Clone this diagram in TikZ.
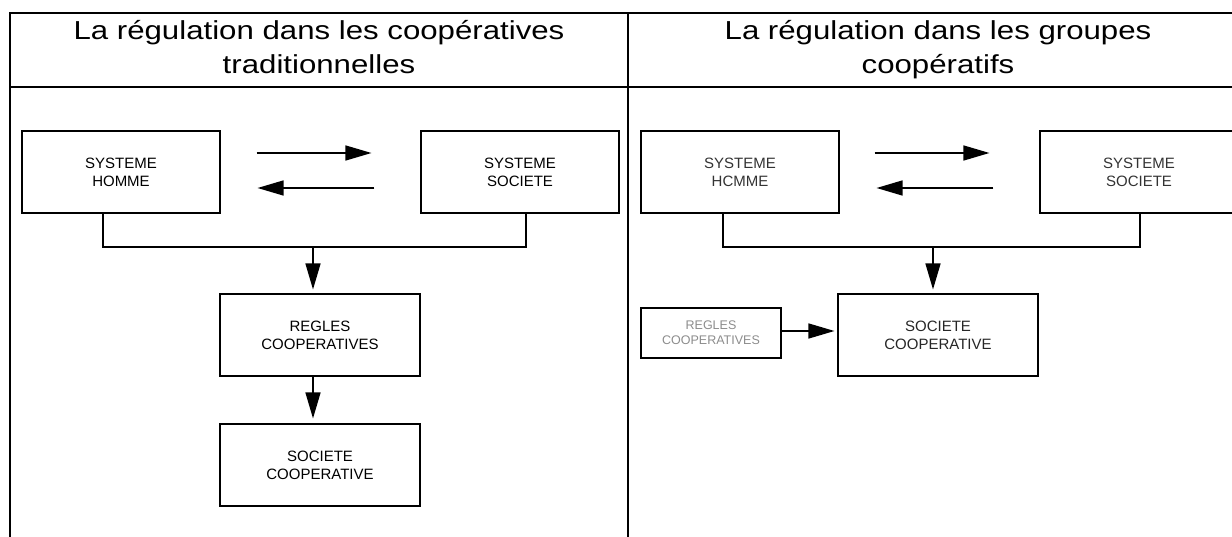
\documentclass[tikz,border=0pt]{standalone}
\usepackage{fontspec}
\setmainfont{Liberation Sans}
\usetikzlibrary{arrows.meta}
\newcommand{\widetitle}[1]{\scalebox{1.2}[1]{\strut #1}}
\tikzset{
    frame/.style={draw=black, line width=1.3pt},
    title/.style={align=center, font=\fontsize{26}{34}\selectfont},
    box/.style={draw=black, line width=1.1pt, minimum width=200pt, minimum height=82pt,
        inner sep=0pt, align=center, font=\fontsize{15}{18}\selectfont},
    smallbox/.style={box, minimum width=140pt, minimum height=50pt,
        font=\fontsize{12.5}{15}\selectfont, text=black!45},
    link/.style={draw=black, line width=1.1pt},
    flow/.style={draw=black, line width=1.4pt, -{Triangle[length=26pt,width=15pt]}}
}

\begin{document}
\begin{tikzpicture}[x=1pt, y=-1pt]
\useasboundingbox (0,0) rectangle (1232,537);
% table
\draw[style={frame}] (1232,13) -- (10,13) -- (10,537);
\draw[style={frame}] (10,87) -- (1232,87);
\draw[style={frame}] (628,13) -- (628,537);
\node[style={title}] (titleA) at (319,50)
  {\widetitle{La régulation dans les coopératives}\\\widetitle{traditionnelles}};
\node[style={title}] (titleB) at (938,50)
  {\widetitle{La régulation dans les groupes}\\\widetitle{coopératifs}};

% left column
\node[style={box}, minimum width=198pt] (hommeA) at (121,172) {SYSTEME\\HOMME};
\node[style={box}, minimum width=198pt] (societeA) at (520,172) {SYSTEME\\SOCIETE};
\node[style={box}] (reglesA) at (320,335) {REGLES\\COOPERATIVES};
\node[style={box}] (coopA) at (320,465) {SOCIETE\\COOPERATIVE};
\coordinate (jA) at (313,247);
\draw[style={flow}, shorten <=36pt, shorten >=49pt]
  ([yshift=19pt]hommeA.east) -- ([yshift=19pt]societeA.west);
\draw[style={flow}, shorten <=46pt, shorten >=37pt]
  ([yshift=-16pt]societeA.west) -- ([yshift=-16pt]hommeA.east);
\draw[style={link}] ([xshift=-18pt]hommeA.south) |- (jA) -| ([xshift=6pt]societeA.south);
\draw[style={flow}, shorten >=4pt] (jA) -- (jA |- reglesA.north);
\draw[style={flow}, shorten >=5pt] (jA |- reglesA.south) -- (jA |- coopA.north);

% right column
\node[style={box}, minimum width=198pt, text=black!80] (hommeB) at (740,172) {SYSTEME\\HCMME};
\node[style={box}, minimum width=198pt, text=black!80] (societeB) at (1139,172) {SYSTEME\\SOCIETE};
\node[style={box}, text=black!85] (coopB) at (938,335) {SOCIETE\\COOPERATIVE};
\node[style={smallbox}] (reglesB) at (711,333) {REGLES\\COOPERATIVES};
\coordinate (jB) at (933,247);
\draw[style={flow}, shorten <=35pt, shorten >=50pt]
  ([yshift=19pt]hommeB.east) -- ([yshift=19pt]societeB.west);
\draw[style={flow}, shorten <=46pt, shorten >=37pt]
  ([yshift=-16pt]societeB.west) -- ([yshift=-16pt]hommeB.east);
\draw[style={link}] ([xshift=-17pt]hommeB.south) |- (jB) -| ([xshift=1pt]societeB.south);
\draw[style={flow}, shorten >=4pt] (jB) -- (jB |- coopB.north);
\draw[style={flow}, shorten >=3pt] ([yshift=2pt]reglesB.east) -- ([yshift=2pt]reglesB.east -| coopB.west);
\end{tikzpicture}
\end{document}
